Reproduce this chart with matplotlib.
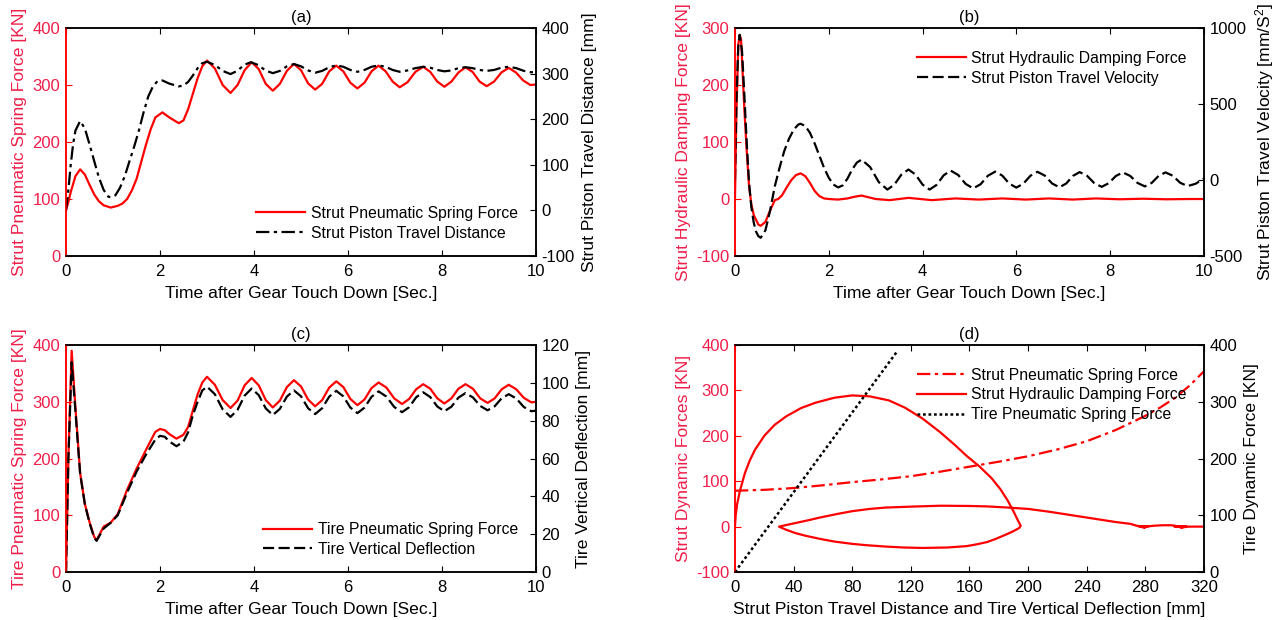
import matplotlib
matplotlib.use('Agg')
import matplotlib.pyplot as plt

plt.rcParams['font.family'] = ['Liberation Sans', 'DejaVu Sans']
plt.rcParams['mathtext.default'] = 'regular'
plt.rcParams['axes.unicode_minus'] = False

# ---------------- (a) strut spring force / piston travel ----------------
ta_red = [0, 0.05, 0.1, 0.2, 0.3, 0.4, 0.5, 0.6, 0.7, 0.8, 0.95, 1.1, 1.2, 1.3, 1.4,
          1.5, 1.6, 1.7, 1.8, 1.9, 2.05, 2.2, 2.4, 2.5, 2.6, 2.7, 2.8, 2.9, 3.0,
          3.167, 3.333, 3.5, 3.65, 3.8, 3.95, 4.1, 4.25, 4.4, 4.55, 4.7, 4.85,
          5.0, 5.15, 5.3, 5.45, 5.6, 5.75, 5.9, 6.05, 6.2, 6.35, 6.5, 6.65,
          6.8, 6.95, 7.1, 7.267, 7.433, 7.6, 7.75, 7.9, 8.05, 8.2, 8.35, 8.5,
          8.65, 8.8, 8.95, 9.107, 9.263, 9.42, 9.573, 9.727, 9.88, 10.0]
spring_force_a = [80, 95, 112, 140, 152, 143, 125, 108, 96, 89, 85, 88, 92, 100, 115,
                  135, 165, 195, 222, 243, 252, 243, 233, 238, 258, 285, 312, 333, 343,
                  329, 300, 286, 300, 326, 340, 328, 302, 290, 302, 325, 337,
                  326, 303, 292, 302, 324, 334, 324, 304, 294, 304, 324, 334,
                  324, 306, 296, 305, 323, 332, 323, 306, 297, 306, 322, 331,
                  323, 306, 298, 306, 322, 330, 322, 308, 300, 301]

ta_blk = [0, 0.05, 0.1, 0.15, 0.2, 0.3, 0.4, 0.5, 0.6, 0.7, 0.8, 0.9, 0.95, 1.05, 1.15,
          1.25, 1.35, 1.45, 1.55, 1.65, 1.75, 1.85, 1.95, 2.05, 2.2, 2.4, 2.5, 2.6,
          2.7, 2.8, 2.9, 3.0, 3.167, 3.333, 3.5, 3.643, 3.787, 3.93, 4.087, 4.243,
          4.4, 4.55, 4.7, 4.85, 5.0, 5.15, 5.3, 5.45, 5.6, 5.75, 5.9, 6.05, 6.2,
          6.35, 6.5, 6.65, 6.8, 6.95, 7.1, 7.267, 7.433, 7.6, 7.75, 7.9, 8.05,
          8.2, 8.35, 8.5, 8.65, 8.8, 8.95, 9.107, 9.263, 9.42, 9.58, 9.74, 9.9, 10.0]
travel_a = [0, 45, 100, 145, 175, 196, 180, 145, 108, 72, 45, 30, 29, 33, 50,
            75, 108, 140, 175, 215, 250, 272, 284, 285, 278, 272, 274, 282,
            296, 312, 323, 326, 319, 306, 299, 306, 319, 325, 319, 307,
            301, 306, 316, 321, 316, 307, 302, 306, 314, 318, 315, 308, 304,
            308, 315, 318, 315, 308, 304, 307, 312, 315, 313, 308, 305,
            307, 312, 314, 312, 308, 306, 308, 313, 315, 312, 306, 303, 304]

# ---------------- (b) hydraulic damping force / piston velocity ----------------
tb_red = [0, 0.03, 0.07, 0.1, 0.13, 0.2, 0.25, 0.3, 0.35, 0.4, 0.5, 0.55, 0.65, 0.75,
          0.85, 0.92, 1.0, 1.1, 1.2, 1.3, 1.4, 1.5, 1.6, 1.7, 1.8, 1.9, 2.0, 2.2,
          2.4, 2.55, 2.7, 2.85, 3.0, 3.3, 3.7, 4.2, 4.7, 5.2, 5.7, 6.2, 6.7, 7.2,
          7.7, 8.2, 8.7, 9.2, 9.7, 10.0]
damping_b = [0, 150, 270, 288, 280, 158, 85, 23, -10, -28, -45, -47, -40, -20,
             -2, 0, 6, 20, 33, 42, 45, 40, 28, 14, 5, 1, 0, -1,
             1, 4, 6, 3, 0, -2, 2, -2, 1, -1, 1, -1, 1, -1,
             1, -0.5, 0.5, -0.5, 0, 0]

tb_blk = [0, 0.03, 0.07, 0.1, 0.15, 0.2, 0.25, 0.3, 0.35, 0.4, 0.45, 0.5, 0.55, 0.65,
          0.75, 0.85, 0.95, 1.05, 1.15, 1.25, 1.35, 1.4, 1.5, 1.6, 1.7, 1.8, 1.9,
          2.0, 2.1, 2.2, 2.3, 2.4, 2.5, 2.6, 2.7, 2.883, 3.067, 3.25, 3.4, 3.55,
          3.7, 3.85, 4.0, 4.15, 4.3, 4.45, 4.6, 4.76, 4.92, 5.08, 5.237, 5.393,
          5.55, 5.7, 5.85, 6.0, 6.15, 6.3, 6.45, 6.607, 6.763, 6.92, 7.063, 7.207,
          7.35, 7.507, 7.663, 7.82, 7.97, 8.12, 8.27, 8.427, 8.583, 8.74, 8.887,
          9.033, 9.18, 9.337, 9.493, 9.65, 9.82, 10.0]
velocity_b = [0, 500, 880, 955, 850, 560, 250, -20, -180, -280, -340, -370, -380, -330,
              -200, -40, 80, 190, 270, 330, 365, 370, 355, 310, 240, 160, 80,
              15, -30, -49, -35, 10, 70, 115, 134, 85, -14, -63, -30, 36,
              69, 36, -30, -63, -32, 31, 62, 33, -26, -55, -28, 28,
              55, 29, -24, -50, -24, 28, 54, 29, -23, -48, -23, 27,
              52, 28, -21, -45, -21, 26, 50, 27, -19, -42, -19,
              27, 50, 28, -18, -40, -25, 10]

# ---------------- (c) tire force / tire deflection ----------------
tc = [0, 0.05, 0.12, 0.2, 0.3, 0.4, 0.5, 0.6, 0.65, 0.8, 0.95, 1.1, 1.3, 1.5, 1.7,
      1.9, 2.0, 2.1, 2.2, 2.35, 2.5, 2.6, 2.7, 2.8, 2.9, 3.0, 3.167, 3.333, 3.5,
      3.65, 3.8, 3.95, 4.1, 4.25, 4.4, 4.55, 4.7, 4.85, 5.0, 5.15, 5.3, 5.45,
      5.6, 5.75, 5.9, 6.05, 6.2, 6.35, 6.5, 6.65, 6.817, 6.983, 7.15, 7.3,
      7.45, 7.6, 7.75, 7.9, 8.05, 8.2, 8.35, 8.5, 8.657, 8.813, 8.97, 9.12,
      9.27, 9.42, 9.58, 9.74, 9.9, 10.0]
tire_force_c = [0, 200, 390, 290, 175, 120, 88, 62, 56, 80, 87, 102, 145, 182, 215,
                247, 252, 250, 243, 235, 242, 256, 285, 313, 334, 344, 330, 303, 289,
                302, 329, 342, 329, 303, 290, 302, 326, 338, 327, 304, 292, 303,
                325, 336, 326, 305, 294, 304, 324, 334, 325, 306, 296, 305,
                322, 331, 323, 306, 297, 306, 323, 331, 323, 306, 298, 306,
                322, 330, 322, 307, 299, 300]
tire_deflection_c = [0, 60, 111, 85, 52, 36, 26, 18, 16.5, 23, 26, 30, 42, 53, 62,
                     70, 72, 71.5, 69, 66.5, 69, 74, 83, 90, 96, 98, 94, 86, 82,
                     85.75, 93.25, 97, 93.5, 86.5, 83, 86.25, 92.75, 96, 92.9, 86.6, 83.5, 86.6,
                     92.7, 95.8, 92.85, 86.95, 84, 86.9, 92.6, 95.5, 92.75, 87.25, 84.5, 87.1,
                     92.4, 95, 92.5, 87.5, 85, 87.4, 92.2, 94.6, 92.3, 87.8, 85.5, 87.6,
                     91.9, 94, 91.75, 87.25, 85, 85.3]

# ---------------- (d) forces against travel / deflection ----------------
pneu_travel = [0, 20, 40, 60, 80, 100, 120, 140, 160, 180, 200, 220, 240, 260,
               280, 290, 300, 310, 320]
pneu_force = [79, 81, 85, 91, 98, 104, 111, 121, 132, 143, 155, 170, 188, 213,
              244, 262, 283, 310, 342]

damp_travel = [0, 0.5, 1.5, 3.4, 6.8, 10, 13.6, 20, 27, 35, 45, 55, 68, 80, 92, 105,
               116, 128, 140, 150, 158, 167, 175, 181, 186, 190, 193, 195,
               194, 190, 186, 178, 172, 165, 158, 145, 128, 115, 103, 90, 80, 68,
               58, 48, 41, 35, 30,
               40, 50, 58, 70, 80, 92, 103, 120, 140, 160, 172, 186, 200, 214, 228,
               240, 250, 260, 270, 274, 280, 276, 282, 278, 286, 292, 298, 302, 306,
               300, 308, 304, 310, 316, 320]
damp_force = [0, 25, 50, 79, 118, 145, 169, 200, 224, 243, 261, 273, 284, 289, 287, 278,
              262, 238, 208, 180, 156, 132, 107, 83, 58, 34, 14, 2,
              -3, -10, -16, -27, -34, -39, -43, -46, -47, -46, -44, -41, -38, -33,
              -27, -20, -14, -7, 0,
              7, 14, 20, 28, 34, 39, 42, 44, 46, 45.5, 44.5, 42, 39, 33, 26,
              20, 15, 10, 6, 2, -2, 0, 1, -1, 2, 3, 3, 1, -1,
              0, 1, -2, 0, 0, 0]

tire_deflection_d = [0, 111]
tire_force_d = [0, 390]

RED = '#ff0000'
RED_TXT = '#f01e4a'
TICK_FS = 12
LABEL_FS = 12.6
LEG_FS = 11.3
LW = 1.6

fig = plt.figure(figsize=(12.82, 6.2), dpi=100)


def make_axes(rect):
    ax = fig.add_axes(rect)
    axr = ax.twinx()
    return ax, axr


def style(ax, axr, xlim, xticks, ylim, yticks, rlim, rticks,
          xlabel, ylabel, rlabel, title):
    ax.set_xlim(xlim)
    ax.set_xticks(xticks)
    ax.set_ylim(ylim)
    ax.set_yticks(yticks)
    axr.set_ylim(rlim)
    axr.set_yticks(rticks)
    ax.tick_params(axis='x', direction='in', top=True, length=4, width=0.8,
                   labelsize=TICK_FS, pad=6)
    ax.tick_params(axis='y', direction='in', length=4, width=0.8, color=RED,
                   labelcolor=RED_TXT, labelsize=TICK_FS, pad=4)
    axr.tick_params(axis='y', direction='in', length=4, width=0.8,
                    labelsize=TICK_FS, pad=4)
    for a in (ax, axr):
        for s in a.spines.values():
            s.set_linewidth(1.1)
        a.spines['left'].set_color(RED)
    ax.set_xlabel(xlabel, fontsize=LABEL_FS, labelpad=5)
    ax.set_ylabel(ylabel, fontsize=LABEL_FS, color=RED_TXT, labelpad=4)
    axr.set_ylabel(rlabel, fontsize=LABEL_FS, labelpad=5)
    ax.set_title(title, fontsize=12, pad=4)


def legend(ax, handles, x, y):
    ax.legend(handles=handles, loc='upper left', bbox_to_anchor=(x, y),
              frameon=False, fontsize=LEG_FS, handlelength=3.1, handletextpad=0.35,
              labelspacing=0.3, borderpad=0, borderaxespad=0)


time_label = 'Time after Gear Touch Down [Sec.]'

# (a)
ax, axr = make_axes([0.0515, 0.5871, 0.3666, 0.3677])
l1, = ax.plot(ta_red, spring_force_a, color=RED, lw=LW,
              label='Strut Pneumatic Spring Force')
l2, = axr.plot(ta_blk, travel_a, color='black', lw=LW, ls='-.', dashes=(6, 2, 1.5, 2),
               label='Strut Piston Travel Distance')
style(ax, axr, (0, 10), range(0, 11, 2), (0, 400), range(0, 401, 100),
      (-100, 400), range(-100, 401, 100), time_label,
      'Strut Pneumatic Spring Force [KN]', 'Strut Piston Travel Distance [mm]', '(a)')
legend(axr, [l1, l2], 0.405, 0.22)

# (b)
ax, axr = make_axes([0.5733, 0.5871, 0.3658, 0.3677])
l1, = ax.plot(tb_red, damping_b, color=RED, lw=LW,
              label='Strut Hydraulic Damping Force')
l2, = axr.plot(tb_blk, velocity_b, color='black', lw=LW, ls='--', dashes=(5, 2),
               label='Strut Piston Travel Velocity')
style(ax, axr, (0, 10), range(0, 11, 2), (-100, 300), range(-100, 301, 100),
      (-500, 1000), range(-500, 1001, 500), time_label,
      'Strut Hydraulic Damping Force [KN]', 'Strut Piston Travel Velocity [mm/S$^2$]', '(b)')
legend(axr, [l1, l2], 0.388, 0.9)

# (c)
ax, axr = make_axes([0.0515, 0.0774, 0.3666, 0.3661])
l1, = ax.plot(tc, tire_force_c, color=RED, lw=LW, label='Tire Pneumatic Spring Force')
l2, = axr.plot(tc, tire_deflection_c, color='black', lw=LW, ls='--', dashes=(5, 2),
               label='Tire Vertical Deflection')
style(ax, axr, (0, 10), range(0, 11, 2), (0, 400), range(0, 401, 100),
      (0, 120), range(0, 121, 20), time_label,
      'Tire Pneumatic Spring Force [KN]', 'Tire Vertical Deflection [mm]', '(c)')
legend(axr, [l1, l2], 0.42, 0.22)

# (d)
ax, axr = make_axes([0.5733, 0.0774, 0.3658, 0.3661])
l1, = ax.plot(pneu_travel, pneu_force, color=RED, lw=LW, ls='-.', dashes=(6, 2, 1.5, 2),
              label='Strut Pneumatic Spring Force')
l2, = ax.plot(damp_travel, damp_force, color=RED, lw=LW,
              label='Strut Hydraulic Damping Force')
l3, = axr.plot(tire_deflection_d, tire_force_d, color='black', lw=1.8, ls=':',
               dashes=(1.1, 1.1), label='Tire Pneumatic Spring Force')
style(ax, axr, (0, 320), range(0, 321, 40), (-100, 400), range(-100, 401, 100),
      (0, 400), range(0, 401, 100),
      'Strut Piston Travel Distance and Tire Vertical Deflection [mm]',
      'Strut Dynamic Forces [KN]', 'Tire Dynamic Force [KN]', '(d)')
legend(axr, [l1, l2, l3], 0.388, 0.9)

fig.savefig('out.png', dpi=100)
